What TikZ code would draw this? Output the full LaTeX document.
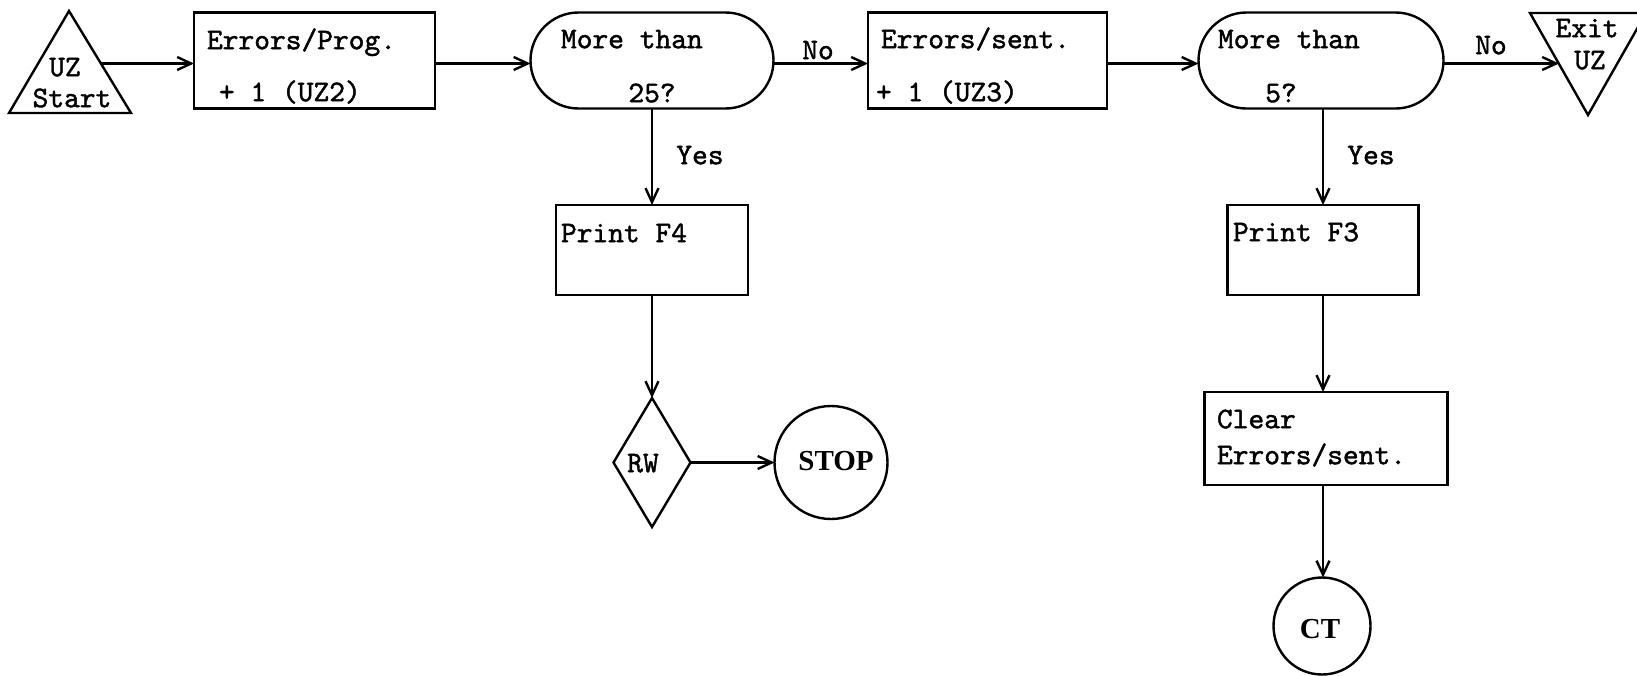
\documentclass[tikz,border=0pt]{standalone}
\usepackage{fontspec}
\newfontfamily\monof{lmmono10-regular.otf}[FakeBold=1.4]
\newfontfamily\serf{Liberation Serif}
\usetikzlibrary{shapes.geometric,shapes.misc,arrows.meta}
\begin{document}
\begin{tikzpicture}[x=0.5pt,y=-0.5pt,
  line width=1.2pt,
  every node/.style={inner sep=0pt, outer sep=0pt},
  box/.style={draw, rectangle},
  stad/.style={draw, rounded rectangle, minimum width=121.5pt, minimum height=48pt},
  txt/.style={font=\monof\fontsize{15}{18}\selectfont, text height=9.2pt, text depth=0pt},
  sft/.style={font=\serf\bfseries\fontsize{14.5}{17}\selectfont, text height=9.6pt, text depth=0pt},
  arr/.style={-{Straight Barb[length=7pt,width=6.5pt]}},
]
\fill[white] (0,0) rectangle (1637,675);
\useasboundingbox (0,0) rectangle (1637,675);

% start triangle
\draw (69,11) -- (131,113) -- (9,113) -- cycle;
\coordinate (s1) at (101,63.5);
\node[txt] (tuz) at (65,67) {UZ};
\node[txt] (tstart) at (72,98) {Start};

% top row
\node[box, minimum width=120.5pt, minimum height=48pt] (b1) at (314.5,60.5) {};
\node[txt, anchor=west] (b1a) at (207,40) {Errors/Prog.};
\node[txt, anchor=west] (b1b) at (219,92) {+ 1 (UZ2)};

\node[stad] (d1) at (652,60.5) {};
\node[txt, anchor=west] (d1a) at (561,39) {More than};
\node[txt] (d1b) at (652,93) {25?};

\node[box, minimum width=119.5pt, minimum height=48pt] (b2) at (987.5,60.5) {};
\node[txt, anchor=west] (b2a) at (881,39) {Errors/sent.};
\node[txt, anchor=west] (b2b) at (876,92) {+ 1 (UZ3)};

\node[stad, minimum width=122.5pt] (d2) at (1321,60.5) {};
\node[txt, anchor=west] (d2a) at (1218,39) {More than};
\node[txt] (d2b) at (1281,93) {5?};

% exit triangle
\draw (1530,13) -- (1646,13) -- (1588,115) -- cycle;
\coordinate (e1) at (1559,63.5);
\node[txt] (texit) at (1587,28) {Exit};
\node[txt] (tuz2) at (1590,60) {UZ};

% left column
\node[box, minimum width=96pt, minimum height=45pt] (p4) at (652,250) {};
\node[txt, anchor=west] (p4a) at (561,233) {Print F4};
\node[draw, diamond, minimum width=38.5pt, minimum height=64.5pt] (rw) at (652,462.5) {};
\node[txt] (rwt) at (643,463) {RW};
\node[draw, circle, minimum size=56.5pt] (stop) at (831,462.5) {};
\node[sft] (stopt) at (836,461) {STOP};

% right column
\node[box, minimum width=95.5pt, minimum height=45pt] (p3) at (1323,250) {};
\node[txt, anchor=west] (p3a) at (1233,232) {Print F3};
\node[box, minimum width=121.5pt, minimum height=46.5pt] (clr) at (1326,438.5) {};
\node[txt, anchor=west] (clra) at (1217,419) {Clear};
\node[txt, anchor=west] (clrb) at (1217,455) {Errors/sent.};
\node[draw, circle, minimum size=48.5pt] (ct) at (1322,626) {};
\node[sft] (ctt) at (1320,629) {CT};

% labels
\node[txt] (no1) at (818,50) {No};
\node[txt] (no2) at (1491,45) {No};
\node[txt] (yes1) at (700,155) {Yes};
\node[txt] (yes2) at (1371,155) {Yes};

% connectors
\draw[arr] (s1) -- ([yshift=-1.5pt]b1.west);
\draw[arr] ([yshift=-1.5pt]b1.east) -- ([yshift=-1.5pt]d1.west);
\draw[arr] ([yshift=-1.5pt]d1.east) -- ([yshift=-1.5pt]b2.west);
\draw[arr] ([yshift=-1.5pt]b2.east) -- ([yshift=-1.5pt]d2.west);
\draw[arr] ([yshift=-1.5pt]d2.east) -- (e1);
\draw[arr] (d1.south) -- (p4.north);
\draw[arr] (p4.south) -- (rw.north);
\draw[arr] (rw.east) -- (stop.west);
\draw[arr] (p3.north |- d2.south) -- (p3.north);
\draw[arr] (p3.south) -- (p3.south |- clr.north);
\draw[arr] (p3.south |- clr.south) -- (p3.south |- ct.north);
\end{tikzpicture}
\end{document}
